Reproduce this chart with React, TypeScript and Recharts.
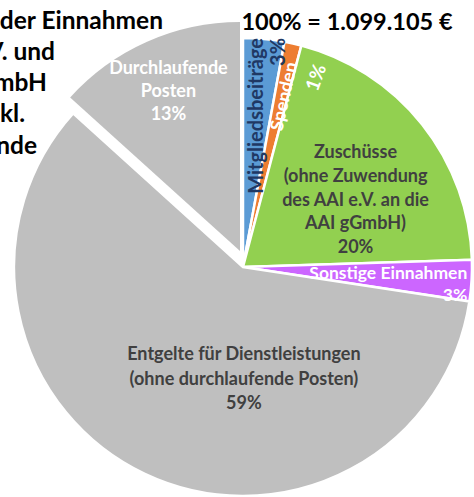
import { Cell, Pie, PieChart } from "recharts";

const categories = [
  "Mitgliedsbeiträge",
  "Spenden",
  "Zuschüsse",
  "Sonstige Einnahmen",
  "Entgelte für Dienstleistungen",
  "Durchlaufende Posten",
];
const shares = [2.9, 1.2, 20.4, 2.9, 59.3, 13.3];
const labelTexts = [
  ["Mitgliedsbeiträge", "3%"],
  ["Spenden", "1%"],
  ["Zuschüsse", "(ohne Zuwendung", "des AAI e.V. an die", "AAI gGmbH)", "20%"],
  ["Sonstige Einnahmen", "3%"],
  ["Entgelte für Dienstleistungen", "(ohne durchlaufende Posten)", "59%"],
  ["Durchlaufende", "Posten", "13%"],
];
const titleLines = [
  "Zusammensetzung der Einnahmen",
  "des AAI e.V. und",
  "der AAI gGmbH",
  "(inkl.",
  "durchlaufende",
];
const totalText = "100% = 1.099.105 €";

const EXPLODED = 5;
const COLORS = ["#5B9BD5", "#ED7D31", "#92D050", "#CC66FF", "#BFBFBF", "#BFBFBF"];
const FONT = "Lato, 'Open Sans', sans-serif";
const RAD = Math.PI / 180;

const data = categories.map((name, i) => ({ name, value: shares[i] }));

// label placement: radius fraction along mid angle, then a small nudge
const labelStyle = [
  { frac: 1.0, dx: -9, dy: -1, rotate: -90, anchor: "end", color: "#1F3864", size: 20, lh: 22 },
  { frac: 0.76, dx: 2, dy: -1, rotate: null, anchor: "middle", color: "#FFFFFF", size: 18, lh: 0 },
  { frac: 0.55, dx: 14, dy: 10, rotate: 0, anchor: "middle", color: "#404040", size: 18, lh: 23.8 },
  { frac: 0.99, dx: -2, dy: 2.5, rotate: 0, anchor: "end", color: "#FFFFFF", size: 17.5, lh: 22 },
  { frac: 0.5, dx: 50, dy: 7.5, rotate: 0, anchor: "middle", color: "#404040", size: 18, lh: 24.5 },
  { frac: 0.77, dx: 0, dy: 0, rotate: 0, anchor: "middle", color: "#FFFFFF", size: 18, lh: 23 },
];

function renderLabel(props: any, exploded: boolean) {
  const { cx, cy, midAngle, outerRadius, index } = props;
  if ((index === EXPLODED) !== exploded) return null;
  const s = labelStyle[index];
  const lines = labelTexts[index];
  const r = outerRadius * s.frac;
  const x = cx + r * Math.cos(-midAngle * RAD) + s.dx;
  const y = cy + r * Math.sin(-midAngle * RAD) + s.dy;

  if (index === 1) {
    // thin slice: name along the slice, value inside the neighbour
    return (
      <g key={`lbl-${index}`} fontFamily={FONT} fontWeight={700} fill={s.color}>
        <text x={x} y={y} textAnchor="middle" dominantBaseline="central" fontSize={s.size}
          transform={`rotate(${-midAngle}, ${x}, ${y})`}>{lines[0]}</text>
        <text x={x + 32} y={y - 19} textAnchor="middle" dominantBaseline="central" fontSize={19}
          transform={`rotate(-70, ${x + 32}, ${y - 19})`}>{lines[1]}</text>
      </g>
    );
  }

  const rot = s.rotate ?? 0;
  const startY = rot === 0 ? y - ((lines.length - 1) * s.lh) / 2 : y;
  return (
    <text key={`lbl-${index}`} x={x} y={startY} textAnchor={s.anchor as any} dominantBaseline="central"
      fontFamily={FONT} fontWeight={700} fontSize={s.size} fill={s.color}
      transform={rot ? `rotate(${rot}, ${x}, ${y})` : undefined}>
      {lines.map((t, i) => (
        <tspan key={i} x={x} dy={i === 0 ? 0 : s.lh}>{t}</tspan>
      ))}
    </text>
  );
}

export default function App() {
  return (
    <div style={{ position: "absolute", left: 0, top: 0, width: 474, height: 497, background: "#fff", overflow: "hidden" }}>
      <PieChart width={474} height={497} margin={{ top: 0, right: 0, bottom: 0, left: 0 }}>
        <Pie
          data={data}
          dataKey="value"
          nameKey="name"
          cx={243}
          cy={267}
          outerRadius={229}
          startAngle={90}
          endAngle={-270}
          stroke="#FFFFFF"
          strokeWidth={2.5}
          labelLine={false}
          label={(p: any) => renderLabel(p, false)}
          isAnimationActive={false}
        >
          {data.map((d, i) => (
            <Cell key={d.name} fill={i === EXPLODED ? "transparent" : COLORS[i]} stroke={i === EXPLODED ? "none" : "#FFFFFF"} />
          ))}
        </Pie>
        <Pie
          data={data}
          dataKey="value"
          nameKey="name"
          cx={240}
          cy={251}
          outerRadius={229}
          startAngle={90}
          endAngle={-270}
          labelLine={false}
          label={(p: any) => renderLabel(p, true)}
          isAnimationActive={false}
        >
          {data.map((d, i) => (
            <Cell key={d.name} fill={i === EXPLODED ? COLORS[i] : "transparent"} stroke="none" />
          ))}
        </Pie>
      </PieChart>
      <svg width={474} height={497} style={{ position: "absolute", left: 0, top: 0, pointerEvents: "none" }}>
        <g fontFamily={FONT} fontWeight={700} fill="#000">
          {titleLines.map((t, i) => (
            <text key={t} x={[163, 55, 47, 25, 37][i]} y={19 + i * 31.25} textAnchor="end" dominantBaseline="central" fontSize={24.5}>
              {t}
            </text>
          ))}
          <text x={347} y={21} textAnchor="middle" dominantBaseline="central" fontSize={23.5}>{totalText}</text>
        </g>
      </svg>
    </div>
  );
}
